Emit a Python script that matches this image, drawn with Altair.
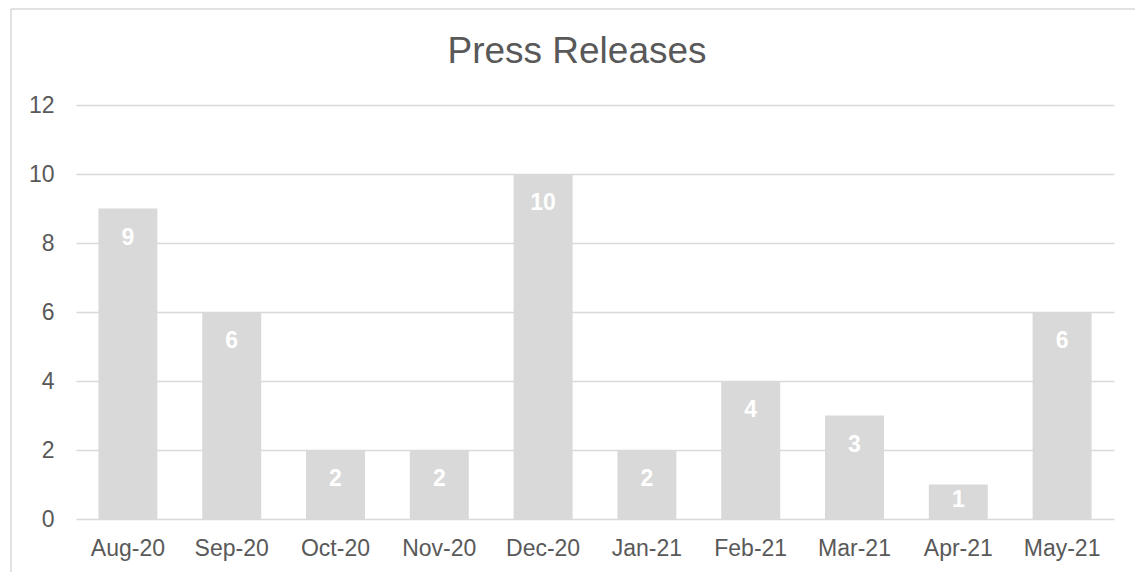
import altair as alt
import pandas as pd

months = ["Aug-20", "Sep-20", "Oct-20", "Nov-20", "Dec-20", "Jan-21", "Feb-21", "Mar-21", "Apr-21", "May-21"]
counts = [9, 6, 2, 2, 10, 2, 4, 3, 1, 6]
y_ticks = [0, 2, 4, 6, 8, 10, 12]
chart_title = "Press Releases"

df = pd.DataFrame({"month": months, "count": counts})
FONT = "Liberation Sans"
GREY = "#d9d9d9"
TEXT = "#595959"

x = alt.X("month:N", sort=months, title=None,
          scale=alt.Scale(paddingInner=0.432, paddingOuter=0.216),
          axis=alt.Axis(labelAngle=0, labelFontSize=23, labelColor=TEXT, labelFont=FONT,
                        labelPadding=18, ticks=False, domain=False, grid=False))
y = alt.Y("count:Q", title=None, scale=alt.Scale(domain=[0, 12], nice=False),
          axis=alt.Axis(values=y_ticks, labelFontSize=23, labelColor=TEXT, labelFont=FONT,
                        labelPadding=22, ticks=False, domain=False, gridColor=GREY,
                        gridWidth=1.5))

base = alt.Chart(df)
bars = base.mark_bar(color=GREY).encode(x=x, y=y)
# labels sit inside the bar end; a bar too short for that keeps its label inside
labels = base.transform_calculate(
    label_y="datum.count < 2 ? datum.count + 0.4 : datum.count"
).mark_text(color="white", fontWeight="bold", fontSize=23, font=FONT,
            baseline="top", dy=18).encode(
    x=x, y=alt.Y("label_y:Q", scale=alt.Scale(domain=[0, 12], nice=False)), text="count:Q")

frame_df = pd.DataFrame({"title": [chart_title]})
top_line = alt.Chart(frame_df).mark_rule(color=GREY, strokeWidth=1.5).encode(
    x=alt.value(-65), x2=alt.value(1100), y=alt.value(-96))
left_line = alt.Chart(frame_df).mark_rule(color=GREY, strokeWidth=1.5).encode(
    x=alt.value(-65), y=alt.value(-96), y2=alt.value(600))
title = alt.Chart(frame_df).mark_text(fontSize=37, font=FONT, color=TEXT, align="center",
                                      baseline="alphabetic").encode(
    x=alt.value(501), y=alt.value(-42), text="title:N")

chart = alt.layer(top_line, left_line, title, bars, labels).properties(
    width=1038, height=414,
    background="white",
    autosize=alt.AutoSizeParams(type="none"),
    padding={"left": 76, "top": 105, "right": 21, "bottom": 53},
).configure_view(strokeWidth=0, stroke="transparent")

chart.save("out.html", embed_options={"renderer": "svg", "actions": False})
